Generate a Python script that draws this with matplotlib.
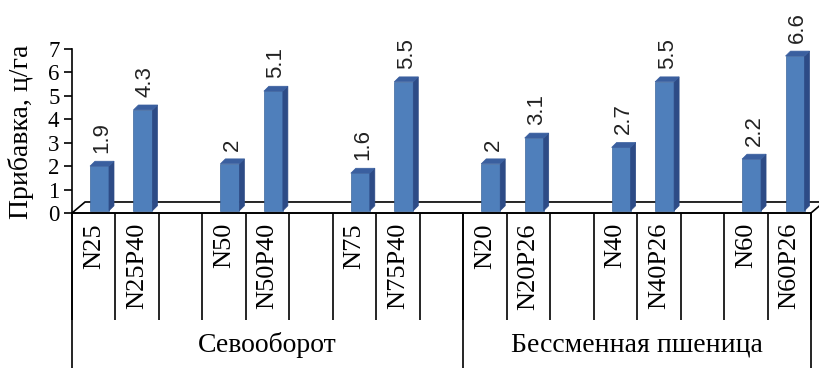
import matplotlib
matplotlib.use('Agg')
import matplotlib.pyplot as plt
from matplotlib.patches import Polygon
import numpy as np

# data (blank slots are the gaps between pairs)
categories = ['N25', 'N25P40', '', 'N50', 'N50P40', '', 'N75', 'N75P40', '',
              'N20', 'N20P26', '', 'N40', 'N40P26', '', 'N60', 'N60P26']
values = [1.9, 4.3, None, 2, 5.1, None, 1.6, 5.5, None,
          2, 3.1, None, 2.7, 5.5, None, 2.2, 6.6]
groups = ['Севооборот', 'Бессменная пшеница']
group_sizes = [9, 8]
y_ticks = [0, 1, 2, 3, 4, 5, 6, 7]

W, H = 819, 368
fig = plt.figure(figsize=(W / 100, H / 100), dpi=100)
ax = fig.add_axes([72 / W, (H - 213) / H, (811 - 72) / W, (213 - 49) / H])
n = len(categories)
ax.set_xlim(0, n)
ax.set_ylim(0, 7)

serif = 'Liberation Serif'
sans = 'Liberation Sans'

front_c = '#4f7fbb'
side_c = '#2d4b86'
top_c = '#3a5f9f'

# 3d offsets in data units
ddx, ddy = 0.115, 0.21
fdx, fdy = 0.30, 0.47
base = 0.1
bw = 0.437
boff = 0.414

# floor
floor = Polygon([(0, 0), (n, 0), (n + fdx, fdy), (fdx, fdy)], closed=True,
                fill=False, edgecolor='black', lw=1.2, clip_on=False, zorder=1)
ax.add_patch(floor)

for i, v in enumerate(values):
    if v is None:
        continue
    x0 = i + boff
    top = v + base
    ax.bar(x0, v, width=bw, bottom=base, align='edge', color=front_c,
           edgecolor='#3d679e', lw=0.5, zorder=3)
    side = Polygon([(x0 + bw, base), (x0 + bw + ddx, base + ddy),
                    (x0 + bw + ddx, top + ddy), (x0 + bw, top)],
                   closed=True, facecolor=side_c, edgecolor=side_c, lw=0.5,
                   zorder=3, clip_on=False)
    topf = Polygon([(x0, top), (x0 + bw, top), (x0 + bw + ddx, top + ddy),
                    (x0 + ddx, top + ddy)], closed=True, facecolor=top_c,
                   edgecolor=top_c, lw=0.5, zorder=3, clip_on=False)
    ax.add_patch(side)
    ax.add_patch(topf)
    ax.annotate('%g' % v, (x0 + bw / 2 + ddx / 2, top), xytext=(0, 13),
                textcoords='offset pixels', rotation=90, ha='center',
                va='bottom', fontsize=16, family=sans, color='#222222',
                annotation_clip=False)

# category lines and labels under the axis
for i in range(n + 1):
    ax.plot([i, i], [0, -4.57], color='black', lw=1.2, clip_on=False,
            solid_capstyle='butt')
for i, c in enumerate(categories):
    if c:
        ax.text(i + 0.5, -0.43, c, rotation=90, ha='center', va='top',
                fontsize=19, family=serif)

start = 0
for g, s in zip(groups, group_sizes):
    ax.plot([start, start], [0, -7], color='black', lw=1.2, clip_on=False)
    ax.text(start + s / 2, -5.64, g, ha='center', va='center',
            fontsize=20, family=serif)
    start += s
ax.plot([start, start], [0, -7], color='black', lw=1.2, clip_on=False)

# axes styling
for sp in ['top', 'right']:
    ax.spines[sp].set_visible(False)
ax.spines['left'].set_linewidth(1.2)
ax.spines['bottom'].set_linewidth(1.2)
ax.set_xticks([])
ax.set_yticks(y_ticks)
ax.tick_params(axis='y', length=6, width=1.2, pad=3, labelsize=16.5)
for lb in ax.get_yticklabels():
    lb.set_family(serif)
ax.set_ylabel('Прибавка, ц/га', fontsize=20, family=serif)
ax.yaxis.set_label_coords(-0.052, 0.494)
ax.patch.set_visible(False)

fig.savefig('out.png', dpi=100)
